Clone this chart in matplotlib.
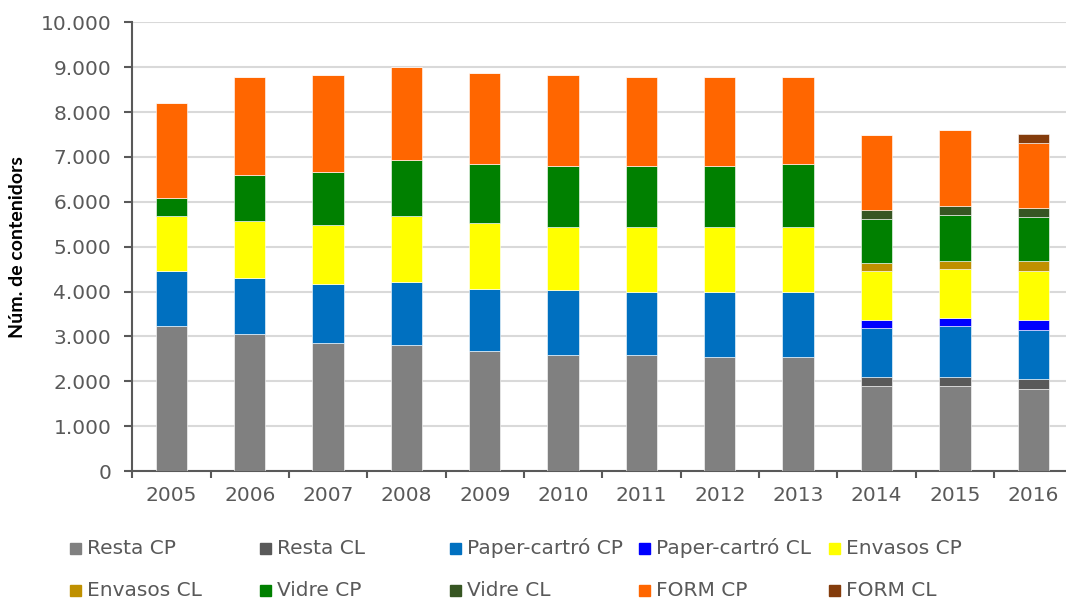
import numpy as np
import matplotlib.pyplot as plt
from matplotlib.patches import Rectangle
from matplotlib.ticker import FuncFormatter

plt.rcParams['font.family'] = ['DejaVu Sans']

years = ['2005', '2006', '2007', '2008', '2009', '2010',
         '2011', '2012', '2013', '2014', '2015', '2016']

resta_cp = [3230, 3045, 2860, 2816, 2667, 2577, 2577, 2533, 2533, 1894, 1894, 1827]
resta_cl = [0, 0, 0, 0, 0, 0, 0, 0, 0, 200, 200, 231]
paper_cp = [1219, 1263, 1299, 1388, 1396, 1448, 1411, 1455, 1455, 1100, 1136, 1076]
paper_cl = [0, 0, 0, 0, 0, 0, 0, 0, 0, 178, 187, 238]
envasos_cp = [1225, 1261, 1330, 1470, 1462, 1411, 1448, 1448, 1448, 1077, 1083, 1077]
envasos_cl = [0, 0, 0, 0, 0, 0, 0, 0, 0, 185, 187, 229]
vidre_cp = [416, 1034, 1165, 1254, 1314, 1358, 1358, 1358, 1403, 988, 1025, 989]
vidre_cl = [0, 0, 0, 0, 0, 0, 0, 0, 0, 185, 185, 192]
form_cp = [2117, 2167, 2161, 2072, 2020, 2021, 1976, 1976, 1931, 1687, 1693, 1448]
form_cl = [0, 0, 0, 0, 0, 0, 0, 0, 0, 0, 0, 194]

series = [
    ('Resta CP', resta_cp, '#808080'),
    ('Resta CL', resta_cl, '#595959'),
    ('Paper-cartró CP', paper_cp, '#0070C0'),
    ('Paper-cartró CL', paper_cl, '#0000FF'),
    ('Envasos CP', envasos_cp, '#FFFF00'),
    ('Envasos CL', envasos_cl, '#BF9000'),
    ('Vidre CP', vidre_cp, '#008000'),
    ('Vidre CL', vidre_cl, '#375623'),
    ('FORM CP', form_cp, '#FF6600'),
    ('FORM CL', form_cl, '#843C0C'),
]

text_color = '#595959'

fig = plt.figure(figsize=(10.66, 6.01), dpi=100)
ax = fig.add_axes([0.124, 0.216, 0.882, 0.747])

x = np.arange(len(years))
bottom = np.zeros(len(years))
for name, vals, color in series:
    vals = np.array(vals, dtype=float)
    ax.bar(x, vals, width=0.4, bottom=bottom, color=color,
           edgecolor='white', linewidth=0.4, zorder=3)
    bottom += vals

ax.set_xlim(-0.5, len(years) - 0.5)
ax.set_ylim(0, 10000)
ax.set_yticks(np.arange(0, 10001, 1000))
ax.yaxis.set_major_formatter(FuncFormatter(lambda v, p: f'{int(v):,}'.replace(',', '.')))
ax.grid(axis='y', color='#d9d9d9', linewidth=1.5, zorder=0)

ax.set_xticks(x)
ax.set_xticklabels(years)
ax.set_xticks(np.arange(-0.5, len(years), 1), minor=True)
ax.tick_params(axis='x', which='major', length=0, pad=11, labelsize=14.5, labelcolor=text_color)
ax.tick_params(axis='x', which='minor', length=5, width=1.5, color=text_color)
ax.tick_params(axis='y', length=6, width=1.5, color=text_color, labelsize=14.5,
               labelcolor=text_color, pad=9)

for s in ['top', 'right']:
    ax.spines[s].set_visible(False)
for s in ['left', 'bottom']:
    ax.spines[s].set_color(text_color)
    ax.spines[s].set_linewidth(1.5)

fig.text(18 / 1066, 1 - 247 / 601, 'Núm. de contenidors', fontsize=14,
         family='Lato', fontweight='bold', rotation=90, ha='center', va='center')

# legend laid out like the original: 2 rows x 5 evenly spaced columns
for i, (name, vals, color) in enumerate(series):
    col, row = i % 5, i // 5
    lx = (70 + col * 189.8) / 1066
    ly = 1 - (548 + row * 42) / 601
    fig.add_artist(Rectangle((lx, ly - 5.5 / 601), 11 / 1066, 11 / 601,
                             transform=fig.transFigure, color=color))
    fig.text(lx + 17 / 1066, ly, name, fontsize=14.5, color=text_color, va='center')

fig.savefig('out.png', dpi=100)
